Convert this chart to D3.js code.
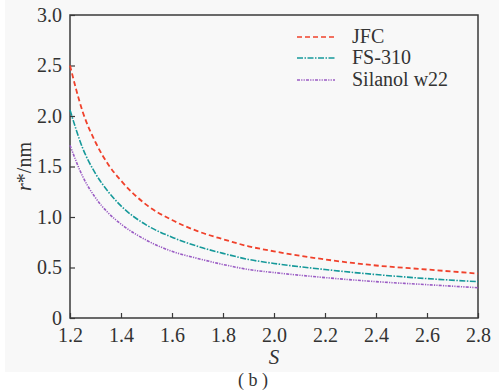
<!DOCTYPE html>
<html>
<head>
<meta charset="utf-8">
<script src="https://cdn.jsdelivr.net/npm/d3@7"></script>
<style>
	body { margin: 0; background: #ffffff; }
</style>
</head>
<body>
<div class="chart"></div>
<script>
/*  ======== Data ============= */
var sValues = [1.2, 1.25, 1.3, 1.35, 1.4, 1.5, 1.6, 1.7, 1.8, 1.9, 2.0, 2.2, 2.4, 2.6, 2.8];
var jfc     = [2.50, 2.04, 1.74, 1.52, 1.36, 1.12, 0.97, 0.86, 0.78, 0.71, 0.66, 0.58, 0.52, 0.48, 0.44];
var fs310   = [2.06, 1.68, 1.43, 1.25, 1.11, 0.92, 0.80, 0.71, 0.64, 0.58, 0.54, 0.48, 0.43, 0.39, 0.36];
var silanol = [1.71, 1.40, 1.19, 1.04, 0.93, 0.77, 0.66, 0.59, 0.53, 0.48, 0.45, 0.40, 0.36, 0.33, 0.30];
var seriesNames = ['JFC', 'FS-310', 'Silanol w22'];
var xTicks = [1.2, 1.4, 1.6, 1.8, 2.0, 2.2, 2.4, 2.6, 2.8];
var yTicks = [0, 0.5, 1.0, 1.5, 2.0, 2.5, 3.0];
/*  ======== Data ============= */

var width = 501, height = 392;
var marginLeft = 70, plotRight = 478, plotTop = 15, plotBottom = 318;
var fontSize = 20;
var fontFamily = '"Liberation Serif", "Times New Roman", serif';
var textColor = '#333333';
var axisColor = '#3a3a3a';
var lineColors = ['#f0412b', '#16999a', '#9a5cc4'];
var dashes = ['5,3', '6,1.5,1.5,1.5', '3,1.2,1.2,1.2,1.2,1.2'];

var svg = d3.select('.chart')
			.append('svg')
			.attr('width', width)
			.attr('height', height)
			.attr('font-family', fontFamily);

// grey photo background
svg.append('rect')
	.attr('x', 5).attr('y', 0)
	.attr('width', 494).attr('height', 372)
	.attr('fill', '#f8f8f8');

var x = d3.scaleLinear().domain([1.2, 2.8]).range([marginLeft, plotRight]);
var y = d3.scaleLinear().domain([0, 3]).range([plotBottom, plotTop]);

// axes with inward ticks
var xAxis = svg.append('g')
	.attr('transform', 'translate(0,' + plotBottom + ')')
	.call(d3.axisBottom(x).tickValues(xTicks).tickSizeInner(-5).tickSizeOuter(0)
		.tickFormat(function(d){ return d.toFixed(1); }));
xAxis.attr('font-family', fontFamily).attr('font-size', fontSize);
xAxis.selectAll('text').attr('dy', null).attr('y', 24).attr('fill', textColor);

var yAxis = svg.append('g')
	.attr('transform', 'translate(' + marginLeft + ',0)')
	.call(d3.axisLeft(y).tickValues(yTicks).tickSizeInner(-5).tickSizeOuter(0)
		.tickFormat(function(d){ return d === 0 ? '0' : d.toFixed(1); }));
yAxis.attr('font-family', fontFamily).attr('font-size', fontSize);
yAxis.selectAll('text').attr('x', -8).attr('fill', textColor);

svg.selectAll('.domain').remove();
svg.selectAll('.tick line').attr('stroke', axisColor).attr('stroke-width', 1.2);

// frame
svg.append('rect')
	.attr('x', marginLeft).attr('y', plotTop)
	.attr('width', plotRight - marginLeft).attr('height', plotBottom - plotTop)
	.attr('fill', 'none')
	.attr('stroke', axisColor)
	.attr('stroke-width', 1.5);

// curves
var data = [jfc, fs310, silanol];
var line = d3.line()
	.x(function(d, i){ return x(sValues[i]); })
	.y(function(d){ return y(d); })
	.curve(d3.curveMonotoneX);

for(var i = 0; i < data.length; i++){
	svg.append('path')
		.datum(data[i])
		.attr('d', line)
		.attr('fill', 'none')
		.attr('stroke', lineColors[i])
		.attr('stroke-width', i == 0 ? 1.8 : 1.6)
		.attr('stroke-dasharray', dashes[i]);
}

// legend
var legendY = [37, 58, 80];
for(var i = 0; i < seriesNames.length; i++){
	svg.append('line')
		.attr('x1', 297).attr('x2', 335)
		.attr('y1', legendY[i]).attr('y2', legendY[i])
		.attr('stroke', lineColors[i])
		.attr('stroke-width', 1.5)
		.attr('stroke-dasharray', dashes[i]);
	svg.append('text')
		.attr('x', 352)
		.attr('y', legendY[i] + 6)
		.attr('font-size', fontSize)
		.attr('fill', textColor)
		.text(seriesNames[i]);
}

// axis titles
svg.append('text')
	.attr('x', (marginLeft + plotRight) / 2)
	.attr('y', 364)
	.attr('text-anchor', 'middle')
	.attr('font-size', fontSize + 1)
	.attr('font-style', 'italic')
	.attr('fill', textColor)
	.text('S');

var yLabel = svg.append('text')
	.attr('transform', 'translate(31,' + ((plotTop + plotBottom) / 2) + ') rotate(-90)')
	.attr('text-anchor', 'middle')
	.attr('font-size', fontSize)
	.attr('fill', textColor);
yLabel.append('tspan').attr('font-style', 'italic').text('r');
yLabel.append('tspan').text('*/nm');

// caption
svg.append('text')
	.attr('x', 253)
	.attr('y', 386)
	.attr('text-anchor', 'middle')
	.attr('font-size', 18)
	.attr('fill', textColor)
	.text('( b )');
</script>
</body>
</html>
